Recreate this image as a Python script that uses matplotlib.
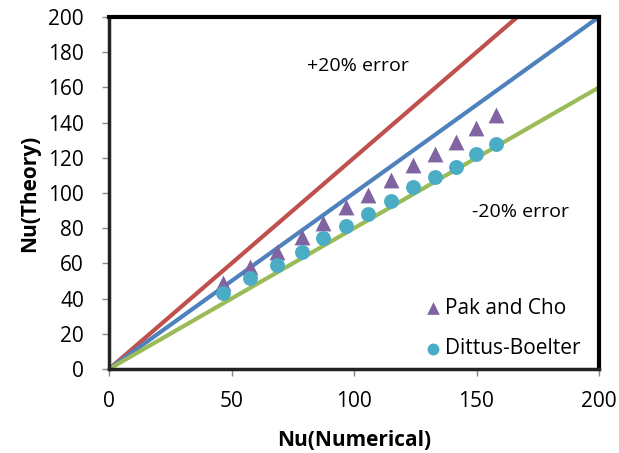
import matplotlib
matplotlib.use("Agg")
import matplotlib.pyplot as plt
import numpy as np

nu_numerical = [46.7, 57.6, 68.7, 78.6, 87.5, 96.6, 105.6, 115.0, 124.2, 133.2, 141.6, 149.9, 157.8]
pak_cho = [48.7, 58.1, 66.6, 75.2, 83.1, 91.9, 98.9, 107.4, 115.9, 122.2, 129.1, 136.7, 144.3]
dittus_boelter = [43.0, 51.5, 59.1, 66.6, 74.3, 81.3, 88.1, 95.5, 103.2, 108.9, 114.9, 122.0, 127.8]
line_x = [0, 200]
xticks = [0, 50, 100, 150, 200]
yticks = [0, 20, 40, 60, 80, 100, 120, 140, 160, 180, 200]

plt.rcParams['font.family'] = ['Open Sans', 'DejaVu Sans']

fig = plt.figure(figsize=(6.19, 4.53), dpi=100)
ax = fig.add_axes([109/619, 1-369/453, 490/619, 352/453])

lx = np.array(line_x, dtype=float)
ax.plot(lx, 1.2*lx, color='#C0504D', lw=3, solid_capstyle='butt', zorder=2)
ax.plot(lx, 1.0*lx, color='#4F81BD', lw=3, solid_capstyle='butt', zorder=2)
ax.plot(lx, 0.8*lx, color='#9BBB59', lw=3, solid_capstyle='butt', zorder=2)

ax.scatter(nu_numerical, pak_cho, marker='^', s=130, color='#8064A2', label='Pak and Cho', zorder=3, linewidths=0)
ax.scatter(nu_numerical, dittus_boelter, marker='o', s=115, color='#4BACC6', label='Dittus-Boelter', zorder=3, linewidths=0)

ax.set_xlim(0, 200)
ax.set_ylim(0, 200)
ax.set_xticks(xticks)
ax.set_yticks(yticks)
ax.tick_params(direction='out', length=5, width=1, color='#888888', labelsize=15)
ax.tick_params(axis='y', pad=13)
ax.tick_params(axis='x', pad=11)

for s in ['left', 'bottom']:
    ax.spines[s].set_linewidth(2.5)
    ax.spines[s].set_color('#222222')
for s in ['top', 'right']:
    ax.spines[s].set_linewidth(3)
    ax.spines[s].set_color('black')

ax.set_xlabel('Nu(Numerical)', fontsize=15, fontweight='bold', labelpad=13)
ax.set_ylabel('Nu(Theory)', fontsize=15, fontweight='bold', labelpad=6)

ax.text(101.6, 172, '+20% error', fontsize=14, ha='center', va='center')
ax.text(168, 89, '-20% error', fontsize=14, ha='center', va='center')

leg = ax.legend(loc='upper left', bbox_to_anchor=(0.639, 0.203), frameon=False, fontsize=15,
                handlelength=1.0, handletextpad=0.1, borderpad=0, borderaxespad=0,
                labelspacing=0.95, markerscale=0.8)

fig.savefig('out.png', dpi=100)
